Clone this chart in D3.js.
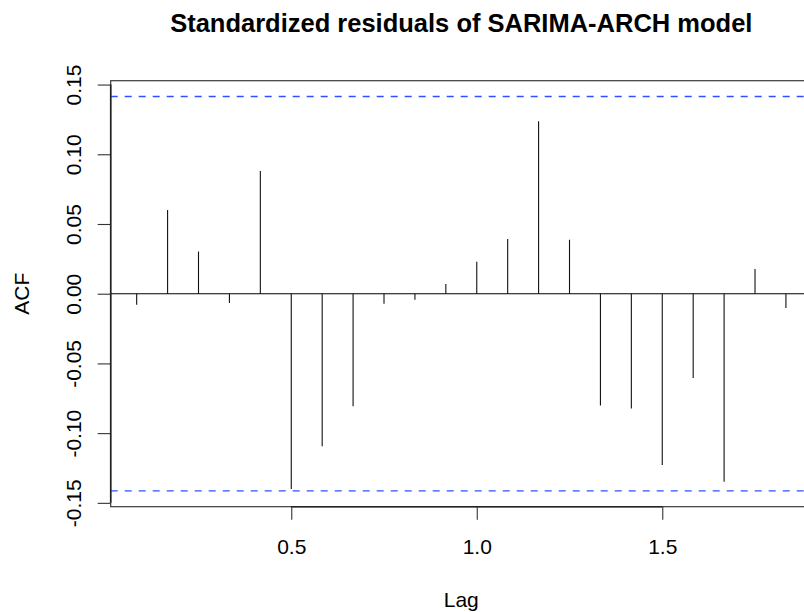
<!DOCTYPE html>
<html>
<head>
<meta charset="utf-8">
<script src="https://cdn.jsdelivr.net/npm/d3@7"></script>
<style>
  body { margin: 0; background: #fff; }
  svg text { font-family: "Liberation Sans", Arial, Helvetica, sans-serif; fill: #000; }
</style>
</head>
<body>
<svg id="chart" width="804" height="612"></svg>
<script>
// Autocorrelation of the standardized residuals, monthly series (frequency 12)
const frequency = 12;
const lagMonths = [1, 2, 3, 4, 5, 6, 7, 8, 9, 10, 11, 12, 13, 14, 15, 16, 17, 18, 19, 20, 21, 22];
const acfValues = [-0.0079, 0.0600, 0.0303, -0.0067, 0.0880, -0.1401, -0.1095, -0.0808,
                   -0.0072, -0.0043, 0.0069, 0.0230, 0.0392, 0.1236, 0.0387, -0.0801,
                   -0.0823, -0.1229, -0.0605, -0.1349, 0.0177, -0.0103];
const xTickValues = [0.5, 1.0, 1.5];
const yTickValues = [-0.15, -0.10, -0.05, 0.00, 0.05, 0.10, 0.15];
const nObs = 192;
const confBound = 1.96 / Math.sqrt(nObs);

const titleText = "Standardized residuals of SARIMA-ARCH model";
const xLabel = "Lag";
const yLabel = "ACF";

const lags = lagMonths.map(m => m / frequency);
const points = lags.map((lag, i) => ({ lag, acf: acfValues[i] }));

// Plot region (axis limits padded by 4% on each side)
const plot = { left: 110.7, right: 811.9, top: 80.7, bottom: 506.7 };
const pad = (lo, hi) => { const r = hi - lo; return [lo - 0.04 * r, hi + 0.04 * r]; };
const xLim = pad(d3.min(lags), d3.max(lags));
const yLim = pad(Math.min(-confBound, d3.min(acfValues)), Math.max(confBound, d3.max(acfValues)));

const x = d3.scaleLinear().domain(xLim).range([plot.left, plot.right]);
const y = d3.scaleLinear().domain(yLim).range([plot.bottom, plot.top]);

const svg = d3.select("#chart");
const locale = d3.formatLocale({ decimal: ".", thousands: ",", grouping: [3], currency: ["", ""], minus: "-" });

// Frame
svg.append("rect")
  .attr("x", plot.left).attr("y", plot.top)
  .attr("width", plot.right - plot.left).attr("height", plot.bottom - plot.top)
  .attr("fill", "none").attr("stroke", "#3a3a3a").attr("stroke-width", 1.2);

// Clip for lines drawn across the plot region
svg.append("clipPath").attr("id", "plot-clip")
  .append("rect")
  .attr("x", plot.left).attr("y", plot.top)
  .attr("width", plot.right - plot.left).attr("height", plot.bottom - plot.top);

const inner = svg.append("g").attr("clip-path", "url(#plot-clip)");

// Zero line
inner.append("line")
  .attr("x1", plot.left).attr("x2", plot.right)
  .attr("y1", y(0)).attr("y2", y(0))
  .attr("stroke", "#000").attr("stroke-width", 1.1);

// Confidence bounds
inner.selectAll("line.ci")
  .data([confBound, -confBound])
  .join("line")
  .attr("class", "ci")
  .attr("x1", plot.left).attr("x2", plot.right)
  .attr("y1", d => y(d)).attr("y2", d => y(d))
  .attr("stroke", "#3050ff").attr("stroke-width", 1.3)
  .attr("stroke-dasharray", "7,7");

// ACF spikes
inner.selectAll("line.spike")
  .data(points)
  .join("line")
  .attr("class", "spike")
  .attr("x1", d => x(d.lag)).attr("x2", d => x(d.lag))
  .attr("y1", y(0)).attr("y2", d => y(d.acf))
  .attr("stroke", "#111").attr("stroke-width", 1.1);

// X axis
const xAxis = svg.append("g")
  .attr("transform", `translate(0,${plot.bottom})`)
  .call(d3.axisBottom(x).tickValues(xTickValues).tickSize(13).tickFormat(locale.format(".1f")));
xAxis.select(".domain").remove();
xAxis.selectAll(".tick line").attr("stroke", "#333").attr("stroke-width", 1.1);
xAxis.selectAll(".tick text")
  .attr("y", 47.3).attr("dy", 0)
  .style("font-size", "21px");
xAxis.append("line")
  .attr("x1", x(xTickValues[0])).attr("x2", x(xTickValues[xTickValues.length - 1]))
  .attr("y1", 0).attr("y2", 0)
  .attr("stroke", "#222").attr("stroke-width", 1.6);

// Y axis
const yAxis = svg.append("g")
  .attr("transform", `translate(${plot.left},0)`)
  .call(d3.axisLeft(y).tickValues(yTickValues).tickSize(13).tickFormat(locale.format(".2f")));
yAxis.select(".domain").remove();
yAxis.selectAll(".tick line").attr("stroke", "#333").attr("stroke-width", 1.1);
yAxis.selectAll(".tick text")
  .attr("x", 0).attr("y", -29.5).attr("dy", 0)
  .attr("transform", "rotate(-90)")
  .attr("text-anchor", "middle")
  .style("font-size", "21px");
yAxis.append("line")
  .attr("x1", 0).attr("x2", 0)
  .attr("y1", y(yTickValues[0])).attr("y2", y(yTickValues[yTickValues.length - 1]))
  .attr("stroke", "#222").attr("stroke-width", 1.6);

// Title and axis labels
const midX = (plot.left + plot.right) / 2;
svg.append("text")
  .attr("x", midX).attr("y", 32)
  .attr("text-anchor", "middle")
  .style("font-size", "25.5px").style("font-weight", "bold")
  .text(titleText);

svg.append("text")
  .attr("x", midX).attr("y", 607)
  .attr("text-anchor", "middle")
  .style("font-size", "21px")
  .text(xLabel);

svg.append("text")
  .attr("transform", `translate(28.5,${(plot.top + plot.bottom) / 2}) rotate(-90)`)
  .attr("text-anchor", "middle")
  .style("font-size", "21px")
  .text(yLabel);
</script>
</body>
</html>
